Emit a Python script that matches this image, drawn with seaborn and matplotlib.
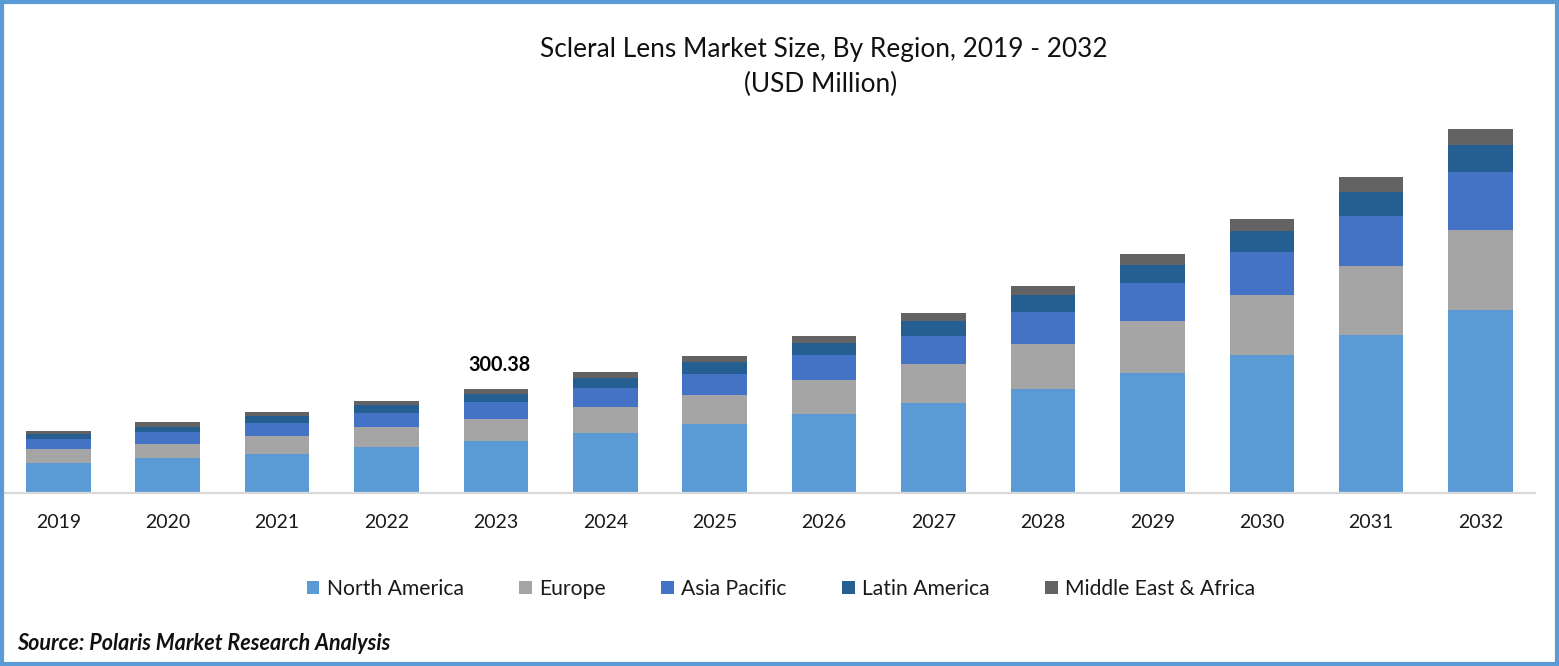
import matplotlib
matplotlib.use('Agg')
import matplotlib.pyplot as plt
import numpy as np
import seaborn as sns
from matplotlib.patches import Rectangle

# values
years = ['2019', '2020', '2021', '2022', '2023', '2024', '2025', '2026', '2027', '2028', '2029', '2030', '2031', '2032']
north_america = [83.8, 98.2, 112.6, 130.0, 147.3, 170.4, 196.4, 225.3, 259.9, 297.5, 343.7, 395.7, 456.3, 528.5]
europe = [40.4, 43.3, 52.0, 57.8, 66.4, 75.1, 86.6, 98.2, 112.6, 132.8, 150.2, 173.3, 198.4, 228.2]
asia_pacific = [28.9, 31.8, 34.7, 40.4, 49.1, 54.9, 60.6, 72.2, 80.9, 92.4, 109.7, 124.2, 144.4, 167.5]
latin_america = [15.3, 17.3, 20.2, 23.1, 23.1, 28.9, 34.7, 37.5, 43.3, 49.1, 52.0, 60.6, 69.3, 78.0]
middle_east = [7.8, 11.6, 11.6, 11.6, 14.4, 17.3, 17.3, 20.2, 23.1, 26.0, 31.8, 37.5, 43.3, 46.2]

regions = ['North America', 'Europe', 'Asia Pacific', 'Latin America', 'Middle East & Africa']
series = [north_america, europe, asia_pacific, latin_america, middle_east]
colors = ['#5B9BD5', '#A5A5A5', '#4472C4', '#255E91', '#636363']

W, H = 1559, 666

sns.set_theme(style='white')
plt.rcParams['font.family'] = ['Lato', 'DejaVu Sans']

fig = plt.figure(figsize=(W / 100, H / 100), dpi=100)
ax = fig.add_axes([3.6 / W, 1 - 492.5 / H, (1535 - 3.3) / W, 382.5 / H])

bottom = np.zeros(len(years))
for name, vals, c in zip(regions, series, colors):
    sns.barplot(x=years, y=vals, bottom=bottom, color=c, saturation=1, width=0.59,
                linewidth=0, label=name, ax=ax, legend=False)
    bottom += np.array(vals)

ax.set_xlim(-0.5, 13.5)
ax.set_ylim(0, 382.5 * 2.888)
ax.set_yticks([])
ax.set_xlabel('')
ax.set_ylabel('')
for s in ['top', 'left', 'right']:
    ax.spines[s].set_visible(False)
ax.spines['bottom'].set_color('#D9D9D9')
ax.spines['bottom'].set_linewidth(1.6)
ax.tick_params(axis='x', length=0, pad=15.8, labelsize=14, labelcolor='#1a1a1a')

# label for the base year only
ax.text(4.03, bottom[4] + 67, '300.38', ha='center', va='center', fontsize=14.2,
        fontweight='bold', color='black')

handles, labels = ax.get_legend_handles_labels()
fig.legend(handles, labels, loc='center', bbox_to_anchor=(781 / W, 1 - 589 / H), ncol=5,
           frameon=False, fontsize=15.2, handlelength=0.6, handleheight=0.6,
           handletextpad=0.35, columnspacing=2.62, labelcolor='#1a1a1a')

fig.text(823.5 / W, 1 - 49 / H, 'Scleral Lens Market Size, By Region, 2019 - 2032', ha='center',
         va='center', fontsize=18.9, color='#111111')
fig.text(820.5 / W, 1 - 84 / H, '(USD Million)', ha='center', va='center', fontsize=18.9, color='#111111')
fig.text(17 / W, 1 - 643 / H, 'Source: Polaris Market Research Analysis', ha='left', va='center',
         fontsize=15.5, fontweight='bold', fontstyle='italic', color='#111111')

# outer frame
fig.patches.append(Rectangle((2 / W, 2 / H), (W - 4) / W, (H - 4) / H, transform=fig.transFigure,
                             fill=False, edgecolor='#5B9BD5', linewidth=3, figure=fig))

fig.savefig('out.png', dpi=100)
